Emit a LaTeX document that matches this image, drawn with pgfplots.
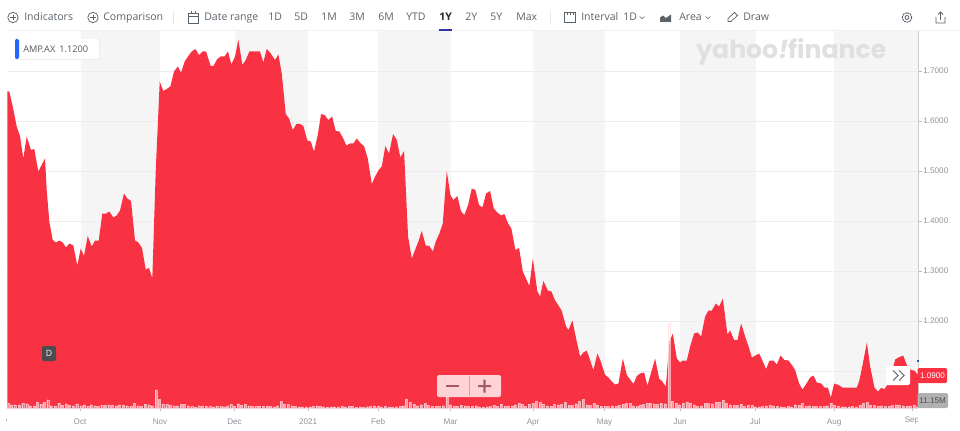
\documentclass[border=0pt]{standalone}
\usepackage{fontspec}
\setmainfont{Open Sans}
\newfontfamily\tickfont{Liberation Sans}
\newfontfamily\wmfont{Poppins}
\usepackage{pgfplots}
\pgfplotsset{compat=1.18}
\definecolor{barred}{HTML}{F93243}
\definecolor{band}{HTML}{F5F5F5}
\definecolor{tbtext}{HTML}{5B636A}
\definecolor{ticktext}{HTML}{8E9299}
\newcommand{\tb}[2]{\node[anchor=base west,inner sep=0pt,text=tbtext,font=\fontsize{7.9}{9}\selectfont] at (#1,21) {#2};}
\newcommand{\plusicon}[1]{\draw[tbtext,line width=.55pt] (#1,17.5) circle (5.2);\draw[tbtext,line width=.55pt] (#1-2.8,17.5)--(#1+2.8,17.5) (#1,14.7)--(#1,20.3);}
\newcommand{\chev}[1]{\draw[tbtext,line width=.45pt] (#1-2.3,16.5)--(#1,18.8)--(#1+2.3,16.5);}
\begin{document}
\begin{tikzpicture}[x=.75pt,y=-.75pt]
\path[use as bounding box] (0,0) rectangle (960,431);
% bands
\fill[band] (81,31) rectangle (160,408);
\fill[band] (235,31) rectangle (308,408);
\fill[band] (378,31) rectangle (451,408);
\fill[band] (533,31) rectangle (605,408);
\fill[band] (680,31) rectangle (756,408);
\fill[band] (834,31) rectangle (918,408);
% watermark
\node[anchor=west,inner sep=0pt,text=black!12] at (696,52) {\resizebox{142.5pt}{!}{\wmfont\bfseries yahoo{\itshape!}finance}};
\begin{axis}[at={(5.625pt,-306pt)},anchor=south west,scale only axis,
  width=683pt,height=282.75pt,
  xmin=7.5,xmax=918,ymin=1.026,ymax=1.78,
  axis x line*=bottom,axis y line*=right,
  axis line style={-,draw=black!20,line width=.7pt},
  x axis line style={draw=black!12},
  tick style={draw=black!25,line width=.5pt},
  major tick length=2.6pt,tick align=outside,
  xtick={80,160,234.5,308,378,450.5,533,604.5,680,755,834,912},
  xticklabels={Oct,Nov,Dec,2021,Feb,Mar,Apr,May,Jun,Jul,Aug,},
  ytick={1.1,1.2,1.3,1.4,1.5,1.6,1.7},
  yticklabels={,1.2000,1.3000,1.4000,1.5000,1.6000,1.7000},
  ymajorgrids,grid style={draw=black!7,line width=.6pt},
  tick label style={text=ticktext,font=\fontsize{6.1}{7}\tickfont},
  every x tick label/.append style={yshift=-2pt},
  every y tick label/.append style={xshift=-2.2pt},
]
\addplot[fill=barred,draw=none] coordinates {
(7.3,1.659)(9.3,1.659)(12.7,1.629)(16.7,1.589)(20,1.570)(23.3,1.525)(26.7,1.569)(31,1.542)(34.3,1.544)(38.3,1.499)(45,1.525)(46.7,1.462)(49.3,1.399)(52.7,1.362)(56,1.357)(59.3,1.361)(62.7,1.357)(66,1.347)(69.3,1.355)(73.3,1.351)(77.3,1.311)(80.7,1.345)(84,1.330)(87.7,1.370)(91.7,1.349)(95,1.361)(98.7,1.361)(102.3,1.415)(106,1.415)(109.3,1.419)(113.3,1.407)(116.7,1.411)(120,1.421)(124,1.455)(127.3,1.445)(131,1.440)(135,1.361)(138.3,1.357)(142,1.346)(145.7,1.303)(149,1.306)(152.3,1.285)(155.7,1.50)(159.7,1.679)(163.3,1.660)(166.7,1.664)(170.3,1.669)(174,1.699)(177.7,1.709)(181,1.697)(184.7,1.719)(188.3,1.730)(191.7,1.739)(195.3,1.744)(199,1.732)(202.7,1.739)(206,1.739)(210.7,1.710)(213.3,1.710)(217.3,1.724)(220.7,1.729)(224.3,1.729)(228,1.739)(231.3,1.713)(235,1.729)(238.3,1.763)(242.3,1.712)(245.7,1.722)(249.3,1.739)(253,1.739)(256.5,1.739)(260,1.739)(263.3,1.717)(266.7,1.744)(270.7,1.735)(275,1.722)(278.3,1.733)(281.7,1.695)(285.7,1.614)(289,1.605)(292.7,1.582)(296.3,1.594)
(300,1.594)(303.3,1.590)(307.3,1.561)(310.7,1.559)(314,1.539)(317.7,1.572)(321,1.614)(324.7,1.612)(328.3,1.602)(332,1.609)(335.7,1.580)(339.3,1.579)(342.7,1.567)(346.3,1.551)(350,1.555)(353.3,1.555)(356.7,1.565)(360.7,1.555)(364,1.550)(367.7,1.525)(371.7,1.474)(375,1.489)(378.7,1.502)(381.7,1.509)(385.3,1.550)(389,1.535)(393,1.574)(396.7,1.562)(400.3,1.527)(404,1.540)
(408,1.369)(411.7,1.325)(415,1.342)(418.3,1.359)(421.7,1.380)(425.7,1.351)(429,1.351)(432.7,1.339)(435.7,1.359)(439.3,1.375)(442.7,1.395)(446.7,1.500)(450.3,1.452)(453.3,1.442)(457.3,1.450)(461,1.419)(464.3,1.412)(468,1.432)(471.7,1.465)(475.3,1.462)(479,1.432)(482.3,1.427)(486,1.455)(490,1.460)(493.7,1.425)(497.3,1.417)(501,1.411)(504.3,1.414)(508,1.395)(511.3,1.385)(515.3,1.342)(519,1.346)(522.7,1.299)(529.3,1.270)(532.7,1.325)(537.3,1.259)(540,1.249)(543.3,1.280)(547.7,1.261)(551.3,1.259)(555,1.241)(561.3,1.222)(566,1.189)(568.3,1.182)(572.3,1.201)(576,1.165)(580,1.129)(583.3,1.137)(586.7,1.141)(593.3,1.102)(597.3,1.135)(600.7,1.119)(605,1.092)(608.3,1.087)(611.7,1.079)(615,1.073)(618.3,1.075)(622.7,1.125)(626.7,1.092)(633.3,1.074)
(636.7,1.090)(640,1.095)(644,1.097)(647.3,1.071)(651,1.097)(655,1.125)(659,1.085)(661.7,1.080)(665.7,1.069)(669.3,1.159)(672.7,1.175)(676.7,1.125)(680,1.117)(682.7,1.121)(686.7,1.121)(690,1.149)(694,1.175)(697.7,1.177)(701,1.169)(705,1.209)(708.3,1.221)(711.7,1.221)(715.7,1.235)(719,1.229)(722.7,1.245)(727.3,1.173)(730,1.181)(734,1.162)(737.3,1.162)(741,1.195)(745,1.169)(748.3,1.150)(751.7,1.127)(759,1.135)(762.7,1.119)(766,1.104)(769.3,1.121)(773.3,1.121)(776.7,1.113)(780.3,1.131)(784.3,1.122)(788.3,1.121)(791.7,1.112)(795,1.102)(799,1.075)(802.3,1.063)(806,1.074)(810,1.087)(813.3,1.091)(816.7,1.077)(821,1.075)(824.3,1.067)(827.7,1.067)(830.7,1.047)(834,1.075)(838.3,1.072)(842.3,1.067)(853.3,1.067)(856.7,1.067)(859.3,1.082)(862.7,1.115)(866.7,1.157)(870,1.109)(874.3,1.067)(877.7,1.059)(881,1.066)(884.3,1.064)(888.3,1.075)(892,1.100)(895,1.123)(898.3,1.127)(903,1.131)(906.7,1.112)(910.7,1.102)(914,1.101)(918,1.092)
} \closedcycle;
\end{axis}
\begin{axis}[at={(5.625pt,-306pt)},anchor=south west,scale only axis,
  width=683pt,height=282.75pt,xmin=7.5,xmax=918,ymin=0,ymax=1131,hide axis]
\addplot[ybar,bar width=1.5pt,draw=white!80!barred,line width=.25pt,fill=white,fill opacity=.5,draw opacity=.7] coordinates {
(8,15)(11.3,10)(14.7,10)(19.3,10)(22.7,15)(26.7,13)(30,7)(34.3,7)(37.3,18)(40.7,12)(44,17)(47.7,25)(51,7)(55,6)(58.7,15)(62.3,8)(66,13)(69.3,9)(73.3,7)(76.7,13)(80.7,7)(84,10)(87.7,6)(91,10)(94.7,7)(98,6)(101.7,9)(105.3,8)(108.7,10)(112.3,9)(116,7)(119.3,10)(123,9)(126.7,7)(130.7,6)(134.3,14)(137.7,7)(141.3,6)(145,12)(148.7,10)(152,7)(156,55)(159.3,26)(162.7,12)(166.7,11)(170,8)(173.7,7)(177.3,7)(181,11)(184.3,11)(188,7)(191.7,5)(195.3,3)(198.7,7)(202.3,7)(206,6)(209.7,5)(213.3,4)(216.7,6)(220.7,5)(224,4)(227.3,7)(230.7,11)(234.3,6)(238,13)(241.3,9)(245,12)(248.7,7)(252.3,6)(255.7,5)(259.3,6)(263,5)(266.7,5)(270,5)(273.7,4)(277.3,7)(281,20)(284.3,12)(288,12)(291.7,7)(295.3,5)(298.7,4)(302.3,4)(306,4)(309.7,4)(313.3,5)(316.7,7)
(320,6)(323.3,4)(327,3)(330.7,4)(334.3,4)(338,4)(341.7,6)(345.3,4)(349,6)(352.3,6)(356,3)(359.7,4)(363.3,3)(367,4)(370.3,6)(374,7)(377.7,6)(381.3,4)(385,5)(388.7,3)(392.3,4)(396,4)(400,5)(403,7)(406.3,27)(410,18)(413.7,12)(417.3,7)(421,10)(424.7,14)(428.3,8)(432,5)(435.7,6)(439.3,5)(443,7)(446.7,32)(450,10)(453.7,6)(457.3,6)(461,9)(464.7,7)(468.3,6)(472,6)(475.7,7)(479.3,4)(483,3)(486.7,4)(490.3,5)(493.7,9)(497.3,5)(501,12)(504.7,6)(508.3,7)(512,7)(515,10)(518.7,14)(522,11)(525.3,5)(529,12)(532.7,14)(536.3,20)(540,17)(543.3,12)(547,7)(550.7,6)(554.3,12)(558,10)(561.3,11)(565,17)(568.7,9)(572,8)(575.7,13)(579.3,20)(583,26)(586.7,10)(590,8)(593.7,14)(597.3,10)(601,6)(604.7,6)(608.3,5)(612,7)(615.7,6)(619,8)(622.7,12)(626.3,14)(630,15)(633.3,7)(637,5)
(640,10)(643.3,11)(646.7,14)(650.3,15)(654,13)(657.3,11)(660.7,15)(664.7,13)(668.7,255)(672,20)(676,14)(679.3,10)(683,14)(686.7,18)(690.3,14)(694,10)(697.3,6)(701.3,7)(705,14)(708.3,14)(712,13)(715.7,18)(719.3,18)(723,23)(726.3,15)(730,10)(733.7,9)(737.3,8)(740.7,12)(744.3,5)(748,9)(751.7,9)(755,4)(758.7,4)(762.3,6)(766,7)(769.7,9)(773.3,7)(777,5)(780.7,4)(784.3,3)(788,5)(791.3,4)(795,10)(798.7,9)(802,14)(805.7,5)(809.3,7)(812.7,5)(816.3,5)(820,5)(823.7,6)(827,7)(830.7,15)(834.3,8)(838,6)(841.7,4)(845,4)(848.7,4)(852.3,5)(856,4)(859.7,9)(863.3,15)(867,17)(870.3,9)(874,8)(877.7,6)(881.3,7)(885,5)(888.7,5)(892.3,8)(895.7,10)(899.3,9)(903,7)(906.7,6)(910.3,7)(913.7,9)(916.7,4)
};
\end{axis}
% top rule
\fill[black!6] (8,30) rectangle (960,31);
% clipped Sep labels
\begin{scope}\clip (6,414) rectangle (40,428);
\node[text=ticktext,font=\fontsize{6.1}{7}\tickfont,inner sep=0pt] at (0,421) {Sep};
\end{scope}
\begin{scope}\clip (890,414) rectangle (917.5,428);
\node[text=ticktext,font=\fontsize{6.1}{7}\tickfont,inner sep=0pt] at (912,421) {Sep};
\end{scope}
% toolbar
\plusicon{13}\tb{24}{Indicators}
\plusicon{93}\tb{103}{Comparison}
\draw[black!10,line width=.5pt] (173,11)--(173,24);
\draw[tbtext,line width=.55pt] (188,13) rectangle (198,23) (188,16.5)--(198,16.5) (191,11.5)--(191,14) (195,11.5)--(195,14);
\tb{204}{Date range}
\tb{268}{1D}\tb{294}{5D}\tb{321}{1M}\tb{349}{3M}\tb{378}{6M}\tb{406}{YTD}
\node[anchor=base west,inner sep=0pt,text=black!85,font=\fontsize{7.9}{9}\selectfont\bfseries] at (439,21) {1Y};
\fill[blue!55!black!80!white] (439,29) rectangle (452,31);
\tb{465}{2Y}\tb{490}{5Y}\tb{516}{Max}
\draw[black!10,line width=.5pt] (550,11)--(550,24);
\draw[tbtext,line width=.7pt] (564,12) rectangle (575.5,22) (567,12)--(567,15.5) (570,12)--(570,15.5) (573,12)--(573,15.5);
\tb{581}{Interval}\tb{623}{1D}\chev{642}
\fill[tbtext] (660,22) -- (660,17.5) -- (663,15.5) -- (666,18) -- (671,14.5) -- (671,22) -- cycle;
\tb{679}{Area}\chev{708}
\draw[tbtext,line width=.55pt] (728,21.5) -- (728,18.5) -- (734.5,12.5) -- (737.5,15.5) -- (731,21.5) -- cycle;
\tb{743}{Draw}
\draw[tbtext,line width=.6pt] (907,17.5) circle (2);
\draw[tbtext,line width=.7pt,dash pattern=on 1.6pt off .5pt] (907,17.5) circle (4.8);
\draw[tbtext,line width=.55pt] (936,17) -- (936,23) -- (945,23) -- (945,17) (940.5,20) -- (940.5,12) (938,14.5) -- (940.5,12) -- (943,14.5);
% label
\fill[black!8] (15,39.5) rectangle (100,60);
\fill[white,rounded corners=1.5pt] (15,39) rectangle (99,59);
\fill[blue!70!cyan!85!white,rounded corners=1pt] (15,39) rectangle (19,59);
\node[anchor=west,inner sep=0pt,text=tbtext!90!black,font=\fontsize{6.9}{8}\selectfont] at (23,49.5) {AMP.AX\hspace{3pt}1.1200};
% D badge
\fill[black!70,rounded corners=1pt] (42,346) rectangle (56,361);
\node[text=white,inner sep=0pt,font=\fontsize{6.5}{8}\selectfont] at (49,353.5) {D};
% zoom buttons
\fill[white!78!barred,rounded corners=1.5pt] (437,375) rectangle (501,397);
\draw[black!20!white!70!barred,line width=.4pt] (469,376)--(469,396);
\fill[black!55!white!60!barred] (446,385) rectangle (459,387.2);
\fill[black!55!white!60!barred] (478,385) rectangle (491,387.2) (483.4,379.6) rectangle (485.6,392.6);
% >> button
\fill[white,rounded corners=1.5pt] (886,366) rectangle (910,385);
\draw[black!55,line width=.8pt] (893,370.5)--(898,375.5)--(893,380.5) (899,370.5)--(904,375.5)--(899,380.5);
% price and volume labels
\fill[blue!60!cyan] (917,359.5) rectangle (918.5,361.5);
\fill[barred,rounded corners=1pt] (917.5,368) rectangle (947,383);
\node[text=white,inner sep=0pt,font=\fontsize{6.1}{7}\tickfont] at (932.5,376) {1.0900};
\fill[black!12!gray!55,rounded corners=1pt] (917.5,393) rectangle (948,408);
\node[text=black!70,inner sep=0pt,font=\fontsize{6.1}{7}\tickfont] at (932.7,401) {11.15M};
\end{tikzpicture}
\end{document}
